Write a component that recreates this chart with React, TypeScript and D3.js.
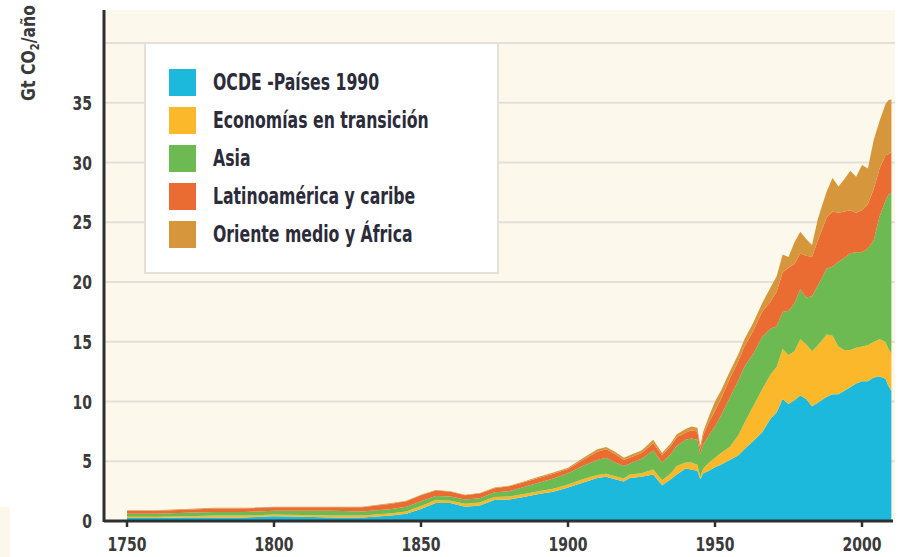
import React from "react";
import * as d3 from "d3";

const years = [1750, 1760, 1770, 1780, 1790, 1800, 1810, 1820, 1830, 1840, 1845, 1850, 1855, 1860, 1865, 1870, 1875, 1880, 1885, 1890, 1895, 1900, 1905, 1910, 1913, 1916, 1919, 1921, 1925, 1929, 1932, 1935, 1937, 1940, 1942, 1944, 1945, 1946, 1948, 1950, 1952, 1955, 1958, 1960, 1963, 1966, 1969, 1971, 1973, 1975, 1977, 1979, 1981, 1983, 1985, 1988, 1990, 1992, 1994, 1996, 1998, 2000, 2002, 2004, 2006, 2008, 2009, 2010];

const ocde = [0.25, 0.25, 0.3, 0.3, 0.3, 0.4, 0.35, 0.3, 0.3, 0.45, 0.6, 1.0, 1.5, 1.5, 1.2, 1.3, 1.75, 1.8, 2.0, 2.25, 2.45, 2.8, 3.2, 3.6, 3.7, 3.5, 3.3, 3.6, 3.7, 3.9, 3.0, 3.5, 3.9, 4.4, 4.3, 4.2, 3.5, 4.0, 4.2, 4.5, 4.7, 5.1, 5.5, 6.0, 6.7, 7.4, 8.6, 9.1, 10.2, 9.8, 10.1, 10.5, 10.2, 9.6, 9.9, 10.4, 10.6, 10.6, 10.9, 11.2, 11.5, 11.7, 11.7, 12.0, 12.1, 11.9, 11.3, 10.9];
const transicion = [0.1, 0.1, 0.1, 0.15, 0.15, 0.15, 0.15, 0.15, 0.15, 0.2, 0.2, 0.25, 0.25, 0.2, 0.25, 0.25, 0.25, 0.25, 0.25, 0.25, 0.25, 0.25, 0.3, 0.25, 0.25, 0.25, 0.25, 0.3, 0.3, 0.4, 0.4, 0.5, 0.7, 0.5, 0.6, 0.5, 0.2, 0.4, 0.7, 0.8, 1.0, 1.1, 1.7, 2.2, 2.9, 3.6, 3.7, 3.8, 4.2, 4.1, 4.1, 4.7, 4.6, 4.6, 4.8, 5.2, 4.9, 4.0, 3.4, 3.1, 3.0, 2.9, 3.0, 3.0, 3.1, 3.1, 3.1, 3.1];
const asia = [0.25, 0.25, 0.3, 0.3, 0.3, 0.3, 0.35, 0.4, 0.35, 0.35, 0.4, 0.4, 0.35, 0.35, 0.35, 0.35, 0.4, 0.45, 0.6, 0.7, 0.85, 0.95, 1.1, 1.25, 1.35, 1.15, 1.05, 0.9, 1.2, 1.6, 1.5, 1.6, 1.7, 1.9, 2.0, 2.1, 1.9, 2.0, 2.3, 2.6, 3.1, 4.1, 4.6, 4.7, 4.4, 4.4, 3.8, 3.4, 3.1, 3.7, 4.0, 4.2, 3.9, 4.6, 5.0, 5.5, 5.8, 7.1, 7.7, 8.1, 8.0, 7.9, 8.1, 8.5, 10.3, 11.8, 12.9, 13.5];
const latam = [0.25, 0.25, 0.25, 0.3, 0.3, 0.3, 0.3, 0.3, 0.35, 0.45, 0.45, 0.5, 0.45, 0.4, 0.35, 0.4, 0.35, 0.4, 0.4, 0.4, 0.4, 0.35, 0.5, 0.7, 0.7, 0.7, 0.5, 0.5, 0.5, 0.6, 0.6, 0.7, 0.7, 0.6, 0.7, 0.7, 0.4, 0.8, 1.1, 1.3, 1.4, 1.6, 1.6, 1.7, 1.9, 2.1, 2.3, 2.9, 3.3, 3.6, 3.3, 3.0, 3.5, 3.3, 3.8, 4.3, 4.6, 4.1, 3.9, 3.6, 3.3, 3.5, 3.7, 4.3, 4.0, 3.8, 3.4, 3.4];
const orienteAfrica = [0.05, 0.05, 0.05, 0.05, 0.05, 0.05, 0.05, 0.05, 0.05, 0.05, 0.05, 0.05, 0.05, 0.05, 0.05, 0.05, 0.05, 0.05, 0.05, 0.1, 0.1, 0.1, 0.15, 0.2, 0.2, 0.2, 0.2, 0.2, 0.2, 0.3, 0.2, 0.2, 0.25, 0.3, 0.3, 0.3, 0.3, 0.3, 0.5, 0.8, 0.7, 0.6, 0.6, 0.6, 0.7, 0.7, 1.2, 1.3, 1.5, 0.9, 1.8, 1.8, 1.4, 1.0, 1.8, 2.2, 2.8, 2.2, 2.7, 3.3, 3.0, 3.8, 3.0, 4.1, 4.0, 4.3, 4.5, 4.4];

const seriesNames = ["OCDE -Países 1990", "Economías en transición", "Asia", "Latinoamérica y caribe", "Oriente medio y África"];
const seriesColors = ["#1cb9dd", "#fbb82b", "#6db952", "#eb6c33", "#d6973c"];
const yTicks = [0, 5, 10, 15, 20, 25, 30, 35];
const gridValues = [5, 10, 15, 20, 25, 30, 35, 40];
const xTicks = [1750, 1800, 1850, 1900, 1950, 2000];

const FONT = "'Liberation Sans Narrow', 'DejaVu Sans Condensed', 'Arial Narrow', sans-serif";

export default function App() {
  const W = 898, H = 557;
  const x = d3.scaleLinear().domain([1750, 2000]).range([127, 862]);
  const y = d3.scaleLinear().domain([0, 40]).range([521, 43]);
  const keys = ["ocde", "transicion", "asia", "latam", "orienteAfrica"];
  const arrays = [ocde, transicion, asia, latam, orienteAfrica];
  const rows = years.map((yr, i) => {
    const r: any = { year: yr };
    keys.forEach((k, j) => (r[k] = arrays[j][i]));
    return r;
  });
  const stacked = d3.stack().keys(keys)(rows as any);
  const area = d3
    .area<any>()
    .x((d) => x(d.data.year))
    .y0((d) => y(d[0]))
    .y1((d) => y(d[1]))
    .curve(d3.curveLinear);

  const plotLeft = 104, plotTop = 10, plotRight = 895, plotBottom = 521;

  return (
    <svg width={W} height={H} style={{ position: "absolute", left: 0, top: 0, background: "#fff" }} fontFamily={FONT}>
      <rect x={0} y={507} width={10} height={50} fill="#fcf7ea" />
      <rect x={plotLeft} y={plotTop} width={plotRight - plotLeft} height={plotBottom - plotTop} fill="#fcf8ec" />
      {gridValues.map((v) => (
        <line key={v} x1={plotLeft} x2={plotRight} y1={y(v)} y2={y(v)} stroke="#e4e0d8" strokeWidth={2} />
      ))}
      {stacked.map((s, i) => (
        <path key={i} d={area(s as any) || ""} fill={seriesColors[i]} />
      ))}
      {/* axes */}
      <line x1={plotLeft} x2={plotLeft} y1={plotTop} y2={plotBottom + 1} stroke="#2f2f2f" strokeWidth={3} />
      <line x1={plotLeft} x2={plotRight - 2} y1={plotBottom} y2={plotBottom} stroke="#2f2f2f" strokeWidth={3} />
      {xTicks.map((t) => (
        <g key={t}>
          <line x1={x(t)} x2={x(t)} y1={plotBottom} y2={plotBottom + 6} stroke="#2f2f2f" strokeWidth={2.5} />
          <text transform={`translate(${x(t)},551) scale(0.82,1)`} textAnchor="middle" fontSize={19} fontWeight="bold" fill="#3a3a3a">{t}</text>
        </g>
      ))}
      {yTicks.map((t) => (
        <text key={t} transform={`translate(92,${y(t) + 7}) scale(0.82,1)`} textAnchor="end" fontSize={19} fontWeight="bold" fill="#3a3a3a">{t}</text>
      ))}
      <text transform="translate(35,101) rotate(-90) scale(0.92,1)" fontSize={19} fontWeight="bold" fill="#3a3a3a" textAnchor="start">
        Gt CO<tspan fontSize={12} dy={4}>2</tspan><tspan dy={-4}>/año</tspan>
      </text>
      {/* legend */}
      <rect x={145} y={43} width={353} height={230} fill="#ffffff" stroke="#e6e1d8" strokeWidth={2} />
      {seriesNames.map((n, i) => (
        <g key={n}>
          <rect x={169} y={69 + i * 38} width={27} height={27} fill={seriesColors[i]} />
          <text transform={`translate(213,${90 + i * 38}) scale(0.76,1)`} fontSize={23} fontWeight="bold" fill="#2b2b3a">{n}</text>
        </g>
      ))}
    </svg>
  );
}
